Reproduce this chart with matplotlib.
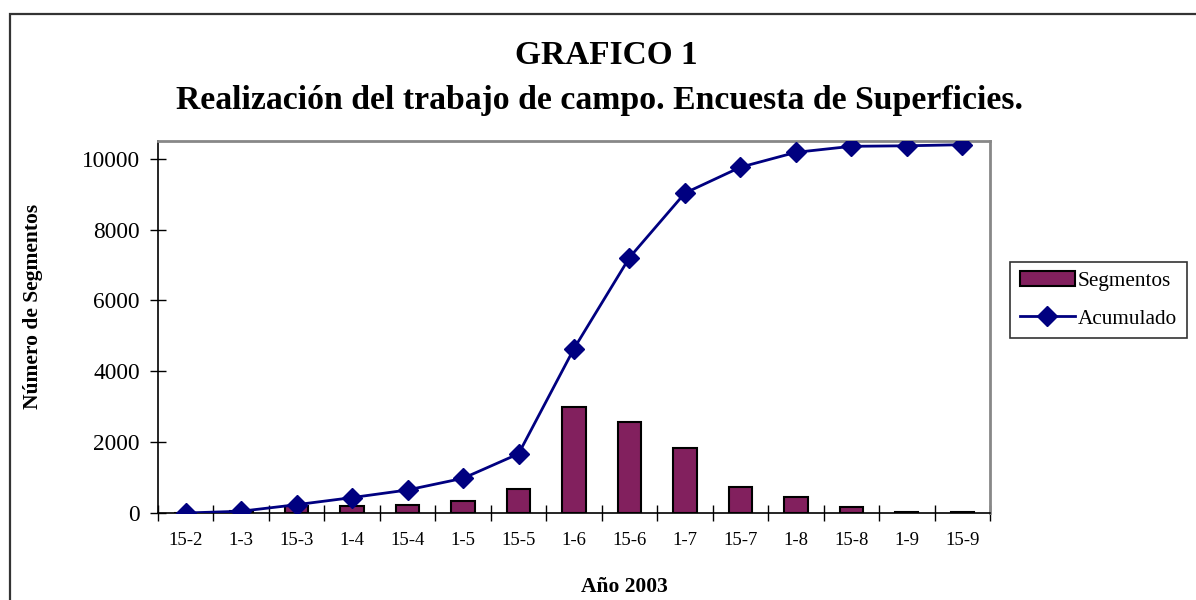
import numpy as np
import matplotlib
matplotlib.use("Agg")
import matplotlib.pyplot as plt
from matplotlib.patches import Rectangle, Patch
from matplotlib.lines import Line2D

# --- Data
fechas = ["15-2", "1-3", "15-3", "1-4", "15-4", "1-5", "15-5", "1-6",
          "15-6", "1-7", "15-7", "1-8", "15-8", "1-9", "15-9"]
segmentos = [0, 50, 185, 200, 215, 330, 690, 2985,
             2570, 1825, 745, 440, 160, 30, 20]
acumulado = [0, 50, 235, 435, 650, 980, 1670, 4640,
             7210, 9030, 9760, 10180, 10350, 10365, 10395]
yticks = [0, 2000, 4000, 6000, 8000, 10000]

plt.rcParams["font.family"] = ["Liberation Serif", "DejaVu Serif"]

fig = plt.figure(figsize=(11.96, 6.0), dpi=100)
ax = fig.add_axes([158 / 1196, 1 - 513 / 600, (990 - 158) / 1196, (513 - 141) / 600])

x = np.arange(len(fechas))
ax.bar(x, segmentos, width=0.42, color="#82205E", edgecolor="black",
       linewidth=1.5, zorder=2)
ax.plot(x, acumulado, color="#000080", linewidth=2, marker="D",
        markersize=10, zorder=3)

ax.set_xlim(-0.5, len(fechas) - 0.5)
ax.set_ylim(0, 10500)
ax.set_yticks(yticks)
ax.set_yticklabels([str(v) for v in yticks], fontsize=16.8)
ax.set_xticks(x)
ax.set_xticklabels(fechas, fontsize=13.5)
ax.tick_params(axis="x", length=0, pad=14)
ax.set_xticks(np.arange(len(fechas) + 1) - 0.5, minor=True)
ax.tick_params(axis="x", which="minor", direction="inout", length=12, width=1)
ax.tick_params(axis="y", direction="inout", length=12, width=1, pad=7)

for s in ["left", "bottom"]:
    ax.spines[s].set_color("black")
    ax.spines[s].set_linewidth(1.2)
for s in ["top", "right"]:
    ax.spines[s].set_color("#888888")
    ax.spines[s].set_linewidth(2)

# titles and axis labels
fig.text(606 / 1196, 1 - 55 / 600, "GRAFICO 1", ha="center", va="center",
         fontsize=24, fontweight="bold")
fig.text(599 / 1196, 1 - 100 / 600,
         "Realización del trabajo de campo. Encuesta de Superficies.",
         ha="center", va="center", fontsize=24.3, fontweight="bold")
fig.text(624 / 1196, 1 - 587 / 600, "Año 2003", ha="center", va="center",
         fontsize=15.5, fontweight="bold")
fig.text(33 / 1196, 1 - 306 / 600, "Número de Segmentos", ha="center",
         va="center", rotation=90, fontsize=15.5, fontweight="bold")

# outer chart frame (only top and left visible in the crop)
fig.add_artist(Rectangle((10 / 1196, -0.1), 1.2, 1 - 14 / 600 + 0.1,
                         transform=fig.transFigure, fill=False,
                         edgecolor="#333333", linewidth=1.6))

handles = [Patch(facecolor="#82205E", edgecolor="black", linewidth=1.5),
           Line2D([0], [0], color="#000080", linewidth=2, marker="D",
                  markersize=10)]
leg = fig.legend(handles, ["Segmentos", "Acumulado"],
                 loc="center left", bbox_to_anchor=(1010 / 1196, 1 - 300 / 600),
                 fontsize=15.3, frameon=True, fancybox=False,
                 edgecolor="black", handlelength=2.6, handletextpad=0.15,
                 labelspacing=0.85, borderpad=0.45, borderaxespad=0)
leg.get_frame().set_linewidth(1.2)

fig.savefig("out.png", dpi=100)
